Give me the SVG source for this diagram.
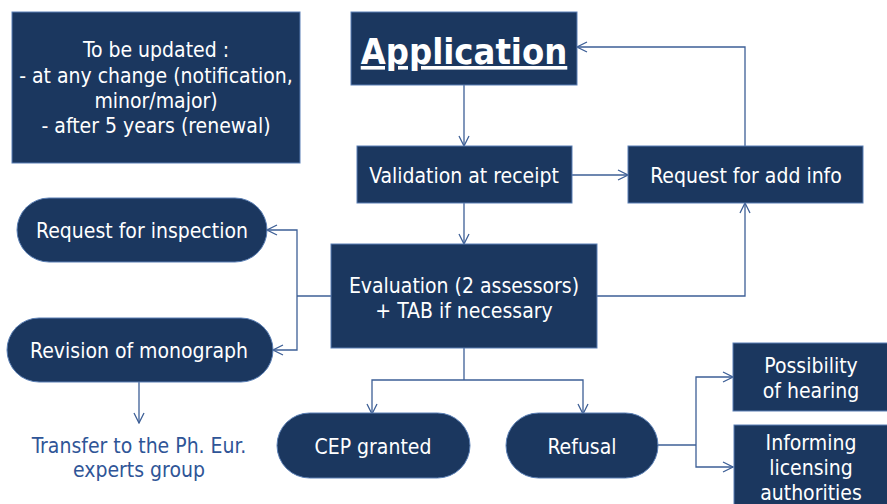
<svg xmlns="http://www.w3.org/2000/svg" width="887" height="504" viewBox="0 0 887 504">
  <defs>
    <marker id="arr" viewBox="0 0 12 12" refX="11" refY="6" markerWidth="12" markerHeight="12" markerUnits="userSpaceOnUse" orient="auto">
      <path d="M1,1 L11,6 L1,11" fill="none" stroke="#3d5f96" stroke-width="1.3"/>
    </marker>
  </defs>
  <style>
    .box { fill: #1b375f; stroke: #5a7fb5; stroke-width: 1; }
    .t { font-family: "DejaVu Sans Condensed", "DejaVu Sans", sans-serif; font-stretch: condensed; font-size: 21px; fill: #ffffff; text-anchor: middle; }
    .title { font-weight: bold; font-size: 36px; text-decoration: underline; }
    .note { fill: #2f5597; }
    .c { fill: none; stroke: #3d5f96; stroke-width: 1.3; }
    .c.a { marker-end: url(#arr); }
  </style>
  <rect width="887" height="504" fill="#ffffff"/>

  <g id="connectors">
    <path class="c a" d="M464,85 V146"/>
    <path class="c a" d="M572,175 H628"/>
    <path class="c a" d="M745,146 V47 H577"/>
    <path class="c a" d="M464,203 V244"/>
    <path class="c a" d="M597,296 H745 V203"/>
    <path class="c" d="M331,296 H297"/>
    <path class="c a" d="M297,296 V230 H267"/>
    <path class="c a" d="M297,296 V350 H273"/>
    <path class="c a" d="M139,382 V423"/>
    <path class="c" d="M464,348 V380"/>
    <path class="c a" d="M464,380 H372 V414"/>
    <path class="c a" d="M464,380 H583 V414"/>
    <path class="c" d="M658,445 H696"/>
    <path class="c a" d="M696,445 V377 H733"/>
    <path class="c a" d="M696,445 V467 H733"/>
  </g>

  <g id="update-note">
    <rect class="box" x="12" y="12" width="288" height="151"/>
    <text class="t" x="156" y="57">To be updated :</text>
    <text class="t" x="156" y="83">- at any change (notification,</text>
    <text class="t" x="156" y="108">minor/major)</text>
    <text class="t" x="156" y="133">- after 5 years (renewal)</text>
  </g>

  <g id="application">
    <rect class="box" x="351" y="12" width="226" height="73"/>
    <text class="t title" x="464" y="64">Application</text>
  </g>

  <g id="validation">
    <rect class="box" x="357" y="146" width="215" height="57"/>
    <text class="t" x="464" y="183">Validation at receipt</text>
  </g>

  <g id="request-info">
    <rect class="box" x="628" y="146" width="235" height="57"/>
    <text class="t" x="746" y="183">Request for add info</text>
  </g>

  <g id="evaluation">
    <rect class="box" x="331" y="244" width="266" height="104"/>
    <text class="t" x="464" y="293">Evaluation (2 assessors)</text>
    <text class="t" x="464" y="318">+ TAB if necessary</text>
  </g>

  <g id="request-inspection">
    <rect class="box" x="17" y="198" width="250" height="64" rx="32"/>
    <text class="t" x="142" y="238">Request for inspection</text>
  </g>

  <g id="revision">
    <rect class="box" x="7" y="318" width="266" height="64" rx="32"/>
    <text class="t" x="139" y="358">Revision of monograph</text>
  </g>

  <g id="transfer">
    <text class="t note" x="139" y="453">Transfer to the Ph. Eur.</text>
    <text class="t note" x="139" y="477">experts group</text>
  </g>

  <g id="cep-granted">
    <rect class="box" x="277" y="413" width="193" height="65" rx="32.5"/>
    <text class="t" x="373" y="454">CEP granted</text>
  </g>

  <g id="refusal">
    <rect class="box" x="506" y="413" width="152" height="65" rx="32.5"/>
    <text class="t" x="582" y="454">Refusal</text>
  </g>

  <g id="hearing">
    <rect class="box" x="733" y="343" width="160" height="68"/>
    <text class="t" x="811" y="373">Possibility</text>
    <text class="t" x="811" y="398">of hearing</text>
  </g>

  <g id="informing">
    <rect class="box" x="734" y="425" width="160" height="90"/>
    <text class="t" x="811" y="450">Informing</text>
    <text class="t" x="811" y="475">licensing</text>
    <text class="t" x="811" y="500">authorities</text>
  </g>
</svg>
